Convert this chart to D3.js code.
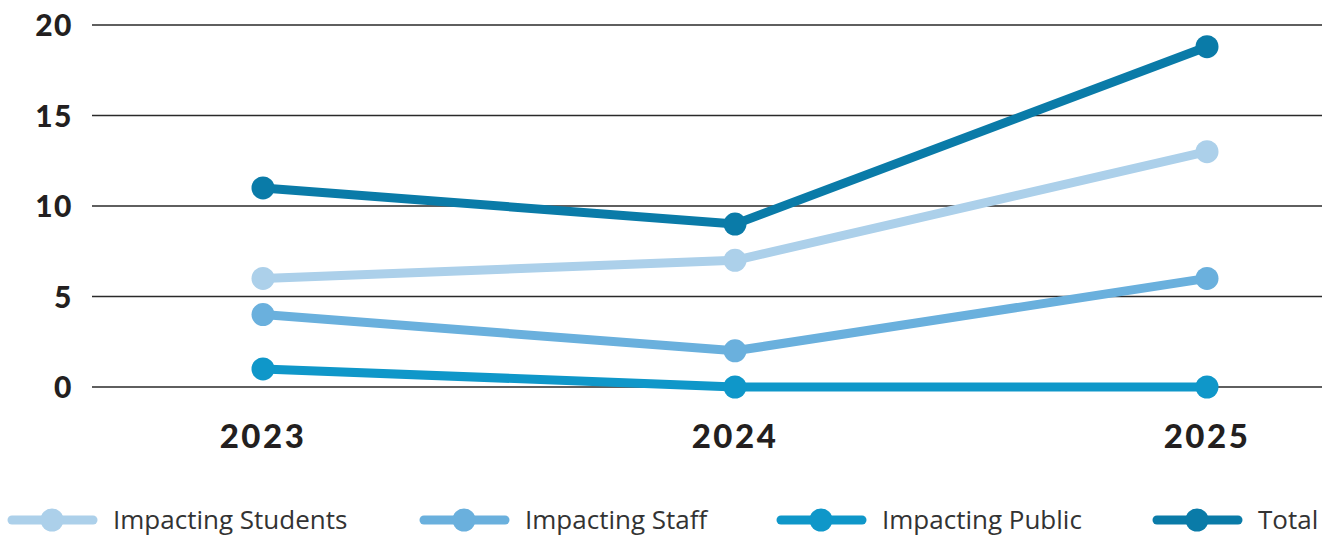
<!DOCTYPE html>
<html><head><meta charset="utf-8">
<script src="https://cdn.jsdelivr.net/npm/d3@7"></script>
<style>body{margin:0;background:#fff;} svg{display:block;}</style>
</head><body>
<svg id="chart" width="1325" height="541"></svg>
<script>
const years = ["2023", "2024", "2025"];
const seriesNames = ["Impacting Students", "Impacting Staff", "Impacting Public", "Total"];
const students = [6, 7, 13];
const staff = [4, 2, 6];
const publicVals = [1, 0, 0];
const total = [11, 9, 18.8];
const yTicks = [0, 5, 10, 15, 20];
const colors = ["#acd0ea", "#6ab0dd", "#0f97c9", "#0a7ba8"];

const series = [students, staff, publicVals, total];
const svg = d3.select("#chart");

const x = d3.scalePoint().domain(years).range([263, 1207]);
const y = d3.scaleLinear().domain([0, 20]).range([387, 25]);
const gridX0 = 92, gridX1 = 1322;

svg.append("g").selectAll("line").data(yTicks).join("line")
  .attr("x1", gridX0).attr("x2", gridX1)
  .attr("y1", d => y(d)).attr("y2", d => y(d))
  .attr("stroke", "#2a2a2a").attr("stroke-width", 1.4);

svg.append("g").selectAll("text").data(yTicks).join("text")
  .attr("x", 73).attr("y", d => y(d) + 11)
  .attr("text-anchor", "end")
  .attr("font-family", "Lato, 'Open Sans', sans-serif")
  .attr("font-weight", 900).attr("font-size", 30)
  .attr("letter-spacing", 1.5)
  .attr("fill", "#231f20")
  .text(d => d);

svg.append("g").selectAll("text").data(years).join("text")
  .attr("x", d => x(d)).attr("y", 448)
  .attr("text-anchor", "middle")
  .attr("font-family", "Lato, 'Open Sans', sans-serif")
  .attr("font-weight", 900).attr("font-size", 33)
  .attr("letter-spacing", 2.5)
  .attr("fill", "#231f20")
  .text(d => d);

const line = d3.line().x((d, i) => x(years[i])).y(d => y(d));

series.forEach((vals, k) => {
  const g = svg.append("g");
  g.append("path").datum(vals)
    .attr("d", line)
    .attr("fill", "none")
    .attr("stroke", colors[k]).attr("stroke-width", 9)
    .attr("stroke-linejoin", "round");
  g.selectAll("circle").data(vals).join("circle")
    .attr("cx", (d, i) => x(years[i])).attr("cy", d => y(d))
    .attr("r", 11.5).attr("fill", colors[k]);
});

const legendX = [8, 420, 777, 1153];
const legend = svg.append("g");
seriesNames.forEach((name, k) => {
  const lx = legendX[k], ly = 520;
  legend.append("line")
    .attr("x1", lx + 4).attr("x2", lx + 85)
    .attr("y1", ly).attr("y2", ly)
    .attr("stroke", colors[k]).attr("stroke-width", 9)
    .attr("stroke-linecap", "round");
  legend.append("circle").attr("cx", lx + 44).attr("cy", ly).attr("r", 11.5).attr("fill", colors[k]);
  legend.append("text")
    .attr("x", lx + 105).attr("y", ly + 9)
    .attr("font-family", "'Open Sans', Lato, sans-serif")
    .attr("font-size", 26).attr("fill", "#333")
    .text(name);
});
</script>
</body></html>
